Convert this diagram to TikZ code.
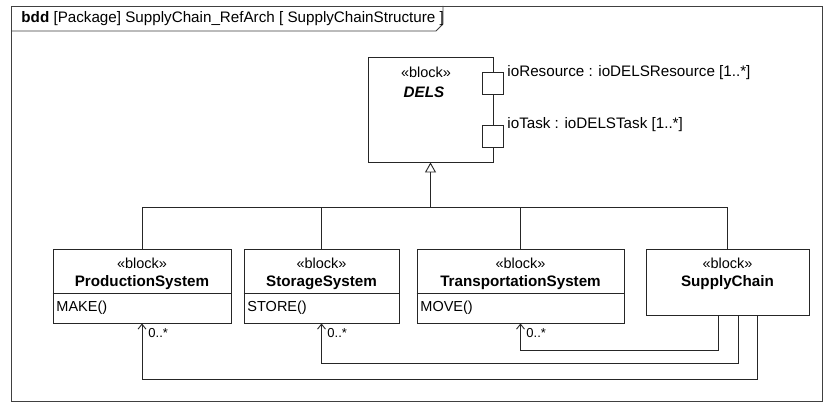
\documentclass[tikz,border=0pt]{standalone}
\usepackage{fontspec}
\setmainfont{Liberation Sans}
\usetikzlibrary{arrows.meta}
\begin{document}
\begin{tikzpicture}[x=1pt,y=-1pt,
  line width=0.9pt, draw=black!85,
  txt/.style={inner sep=0pt, font=\fontsize{14.5}{16}\selectfont},
  bigtxt/.style={inner sep=0pt, font=\fontsize{15.2}{17}\selectfont},
  smalltxt/.style={inner sep=0pt, font=\fontsize{13}{15}\selectfont},
  bold/.style={inner sep=0pt, font=\fontsize{15.2}{17}\selectfont\bfseries},
  blockbox/.style={draw, rectangle, inner sep=0pt, fill=white},
  portbox/.style={draw, rectangle, inner sep=0pt, minimum width=21pt, minimum height=22pt, fill=white},
  gen/.style={-{Triangle[open,length=10pt,width=11pt]}},
  assoc/.style={-{Straight Barb[length=5pt,width=8pt]}}]
\useasboundingbox (0,0) rectangle (823,404);
\fill[white] (0,0) rectangle (823,404);
% frame
\draw[black!75] (11,6) rectangle (822,401);
\draw[black!75] (443,6) -- (443,24) -- (436,31) -- (11,31);
\node[bigtxt, anchor=west] (title) at (21,19) {\textbf{bdd} [Package] SupplyChain\_RefArch [ SupplyChainStructure ]};

% DELS
\node[blockbox, minimum width=125pt, minimum height=105pt] (dels) at (430.5,109.5) {};
\node[txt] (delsst) at (426,72) {«block»};
\node[bold] (delsname) at (424,92) {\itshape DELS};
\node[portbox] (p1) at (493,83) {};
\node[portbox] (p2) at (493,136) {};
\node[bigtxt, anchor=west] (p1l) at (507,73) {ioResource : ioDELSResource [1..*]};
\node[bigtxt, anchor=west] (p2l) at (507,125) {ioTask : ioDELSTask [1..*]};

% blocks
\node[blockbox, minimum width=178pt, minimum height=74pt] (prod) at (142,286) {};
\node[blockbox, minimum width=155pt, minimum height=74pt] (stor) at (321.5,286) {};
\node[blockbox, minimum width=207pt, minimum height=74pt] (trans) at (520.5,286) {};
\node[blockbox, minimum width=163pt, minimum height=66pt] (sc) at (727.5,282) {};

\draw (prod.west |- 0,293) -- (prod.east |- 0,293);
\draw (stor.west |- 0,293) -- (stor.east |- 0,293);
\draw (trans.west |- 0,293) -- (trans.east |- 0,293);

\node[txt] (prodst) at (142,263) {«block»};
\node[bold] (prodn) at (142,283) {ProductionSystem};
\node[txt, anchor=west] (prodop) at (56,308) {MAKE()};
\node[txt] (storst) at (321.5,263) {«block»};
\node[bold] (storn) at (321.5,283) {StorageSystem};
\node[txt, anchor=west] (storop) at (247,308) {STORE()};
\node[txt] (transst) at (520.5,263) {«block»};
\node[bold] (transn) at (520.5,283) {TransportationSystem};
\node[txt, anchor=west] (transop) at (420,308) {MOVE()};
\node[txt] (scst) at (727.5,263) {«block»};
\node[bold] (scn) at (727.5,283) {SupplyChain};

% generalization
\coordinate (bus) at (430.5,207);
\draw (prod.north) |- (sc.north |- bus) -- (sc.north);
\draw (stor.north) -- (stor.north |- bus);
\draw (trans.north) -- (trans.north |- bus);
\draw[gen] (bus) -- (dels.south);

% associations
\draw[assoc] ([xshift=-9.5pt]sc.south) -- ++(0,35) -| (trans.south);
\draw[assoc] ([xshift=10.5pt]sc.south) -- ++(0,48) -| (stor.south);
\draw[assoc] ([xshift=29.5pt]sc.south) -- ++(0,64) -| (prod.south);
\node[smalltxt, anchor=west] (m1) at (148,333) {0..*};
\node[smalltxt, anchor=west] (m2) at (327,333) {0..*};
\node[smalltxt, anchor=west] (m3) at (526,333) {0..*};
\end{tikzpicture}
\end{document}
